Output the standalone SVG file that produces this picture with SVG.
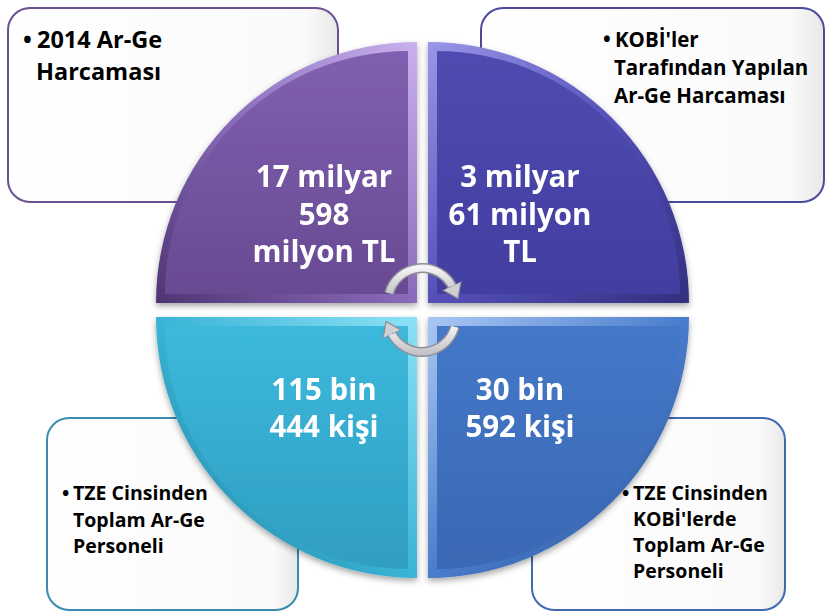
<svg xmlns="http://www.w3.org/2000/svg" width="827" height="612" viewBox="0 0 827 612">
<defs>
<style>
.box{stroke-width:2;fill:url(#boxg)}
.bt{font-family:"Open Sans","Liberation Sans",sans-serif;font-weight:bold;fill:#000}
.nt{font-family:"Open Sans","Liberation Sans",sans-serif;font-weight:bold;fill:#fff;font-size:29.5px;text-anchor:middle}
.arO{fill:none;stroke:#8e8e96;stroke-width:10}
.arI{fill:none;stroke:url(#arg);stroke-width:7}
</style>
<linearGradient id="boxg" x1="0" y1="0" x2="1" y2="0">
<stop offset="0" stop-color="#ffffff"/><stop offset="0.9" stop-color="#fafafa"/><stop offset="1" stop-color="#e8e8e8"/>
</linearGradient>
<linearGradient id="arg" x1="0" y1="0" x2="0" y2="1">
<stop offset="0" stop-color="#f4f4f6"/><stop offset="1" stop-color="#c4c4ca"/>
</linearGradient>
<linearGradient id="pO" x1="1" y1="0" x2="0" y2="1">
<stop offset="0" stop-color="#c9b2ee"/><stop offset="0.5" stop-color="#8a6bbb"/><stop offset="1" stop-color="#4e3573"/>
</linearGradient>
<linearGradient id="pI" x1="0" y1="0" x2="0" y2="1">
<stop offset="0" stop-color="#7f60b0"/><stop offset="1" stop-color="#684a92"/>
</linearGradient>
<linearGradient id="iO" x1="0" y1="0" x2="1" y2="1">
<stop offset="0" stop-color="#9a96e8"/><stop offset="0.5" stop-color="#5550b8"/><stop offset="1" stop-color="#323080"/>
</linearGradient>
<linearGradient id="iI" x1="0" y1="0" x2="0" y2="1">
<stop offset="0" stop-color="#4f4bb0"/><stop offset="1" stop-color="#423ea0"/>
</linearGradient>
<linearGradient id="cO" x1="1" y1="0" x2="0" y2="1">
<stop offset="0" stop-color="#8ee2f6"/><stop offset="0.5" stop-color="#3ab4d6"/><stop offset="1" stop-color="#1f7f9c"/>
</linearGradient>
<linearGradient id="cI" x1="0" y1="0" x2="0" y2="1">
<stop offset="0" stop-color="#3cb9dc"/><stop offset="1" stop-color="#2f9ec2"/>
</linearGradient>
<linearGradient id="bO" x1="0" y1="0" x2="1" y2="1">
<stop offset="0" stop-color="#a9c8f4"/><stop offset="0.5" stop-color="#4a7ccc"/><stop offset="1" stop-color="#2a5294"/>
</linearGradient>
<linearGradient id="bI" x1="0" y1="0" x2="0" y2="1">
<stop offset="0" stop-color="#4478c8"/><stop offset="1" stop-color="#3b68b4"/>
</linearGradient>
<filter id="sh" x="-10%" y="-10%" width="120%" height="120%">
<feDropShadow dx="0" dy="3" stdDeviation="3" flood-color="#000" flood-opacity="0.35"/>
</filter>
<marker id="ah" markerUnits="userSpaceOnUse" markerWidth="24" markerHeight="24" refX="2" refY="12" orient="auto">
<path d="M0,2 L14,12 L0,22 Z" fill="#cfcfd4" stroke="#8e8e96" stroke-width="1.2"/>
</marker>
</defs>
<rect width="827" height="612" fill="#fff"/>

<g id="box-tl"><rect class="box" x="8" y="8" width="330" height="194" rx="22" stroke="#6b5190"/>
<text class="bt" font-size="23.5"><tspan x="23" y="48">•</tspan><tspan x="37" y="48">2014 Ar-Ge</tspan><tspan x="36" y="80">Harcaması</tspan></text></g>
<g id="box-tr"><rect class="box" x="481" y="8" width="343" height="194" rx="22" stroke="#4b4a9e"/>
<text class="bt" font-size="20.5"><tspan x="603" y="47">•</tspan><tspan x="615" y="47">KOBİ'ler</tspan><tspan x="614" y="75">Tarafından Yapılan</tspan><tspan x="614" y="103">Ar-Ge Harcaması</tspan></text></g>
<g id="box-bl"><rect class="box" x="47" y="418" width="251" height="192" rx="22" stroke="#3a8bb0"/>
<text class="bt" font-size="19.5"><tspan x="62" y="500">•</tspan><tspan x="73" y="500">TZE Cinsinden</tspan><tspan x="73" y="527">Toplam Ar-Ge</tspan><tspan x="73" y="553">Personeli</tspan></text></g>
<g id="box-br"><rect class="box" x="532" y="418" width="253" height="192" rx="22" stroke="#3f6bb0"/>
<text class="bt" font-size="19.5"><tspan x="622" y="500">•</tspan><tspan x="633" y="500">TZE Cinsinden</tspan><tspan x="633" y="526">KOBİ'lerde</tspan><tspan x="633" y="552">Toplam Ar-Ge</tspan><tspan x="633" y="578">Personeli</tspan></text></g>

<g id="q-tl" filter="url(#sh)">
<path d="M417,303 L156,303 A261,261 0 0 1 417,42 Z" fill="url(#pO)"/>
<path d="M408,294 L165,294 A243,243 0 0 1 408,51 Z" fill="url(#pI)"/>
<text class="nt"><tspan x="324" y="187">17 milyar</tspan><tspan x="324" y="225">598</tspan><tspan x="324" y="262">milyon TL</tspan></text>
</g>
<g id="q-tr" filter="url(#sh)">
<path d="M428,303 L428,42 A261,261 0 0 1 689,303 Z" fill="url(#iO)"/>
<path d="M437,294 L437,51 A243,243 0 0 1 680,294 Z" fill="url(#iI)"/>
<text class="nt"><tspan x="520" y="187">3 milyar</tspan><tspan x="520" y="225">61 milyon</tspan><tspan x="520" y="262">TL</tspan></text>
</g>
<g id="q-bl" filter="url(#sh)">
<path d="M417,317 L417,578 A261,261 0 0 1 156,317 Z" fill="url(#cO)"/>
<path d="M408,326 L408,569 A243,243 0 0 1 165,326 Z" fill="url(#cI)"/>
<text class="nt"><tspan x="324" y="400">115 bin</tspan><tspan x="324" y="437">444 kişi</tspan></text>
</g>
<g id="q-br" filter="url(#sh)">
<path d="M428,317 L689,317 A261,261 0 0 1 428,578 Z" fill="url(#bO)"/>
<path d="M437,326 L680,326 A243,243 0 0 1 437,569 Z" fill="url(#bI)"/>
<text class="nt"><tspan x="520" y="400">30 bin</tspan><tspan x="520" y="437">592 kişi</tspan></text>
</g>

<g id="connectors">
<path class="arO" d="M389.2,293.2 A34,34 0 0 1 452.8,287.6"/>
<path class="arI" d="M389.2,293.2 A34,34 0 0 1 452.8,287.6" marker-end="url(#ah)"/>
<path class="arO" d="M454.8,326.8 A34,34 0 0 1 391.2,332.4"/>
<path class="arI" d="M454.8,326.8 A34,34 0 0 1 391.2,332.4" marker-end="url(#ah)"/>
</g>
</svg>
